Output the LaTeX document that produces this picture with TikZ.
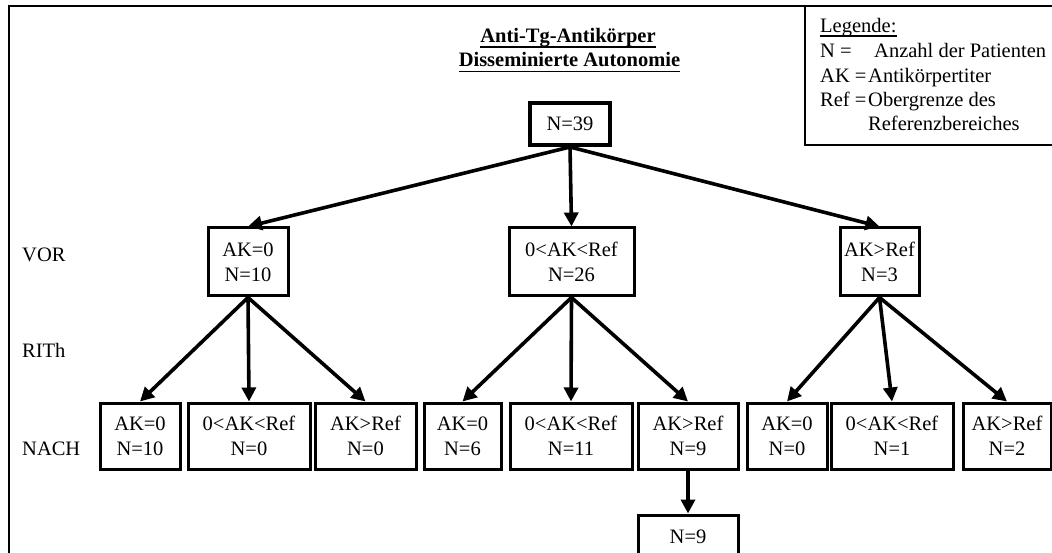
\documentclass[tikz,border=0pt]{standalone}
\usepackage{fontspec}
\setmainfont{Liberation Serif}
\usetikzlibrary{arrows.meta}
\begin{document}
\begin{tikzpicture}[x=1pt,y=-1pt,
  every node/.style={font=\fontsize{20.5}{25}\selectfont},
  box/.style={draw, line width=3pt, align=center, inner sep=0pt},
  lvbox/.style={box, minimum height=68pt},
  lowbox/.style={box, minimum height=66pt},
  conn/.style={line width=3.6pt, -{Triangle[length=14pt,width=14pt]}},
  txt/.style={anchor=base west, inner sep=0pt},
  ttl/.style={anchor=base, inner sep=0pt, font=\fontsize{20.5}{25}\selectfont\bfseries},
  uline/.style={line width=1.8pt},
]
\useasboundingbox (0,0) rectangle (1052,553);
\clip (0,0) rectangle (1052,553);

% frame and legend box
\draw[line width=2.8pt] (9,553) -- (9,6) -- (1052,6);
\draw[line width=1.8pt] (805,6) -- (805,145) -- (1052,145);

% legend
\node[txt] (lg) at (820,33) {Legende:};
\draw[line width=1.3pt] ([yshift=-3pt]lg.base west) -- ([yshift=-3pt]lg.base east);
\node[txt] (lgn) at (820,58) {N =};
\node[txt] (lgnt) at (874,58) {Anzahl der Patienten};
\node[txt] (lgak) at (820,83) {AK =};
\node[txt] (lgakt) at (868,83) {Antikörpertiter};
\node[txt] (lgref) at (820,107) {Ref =};
\node[txt] (lgreft) at (868,107) {Obergrenze des};
\node[txt] (lgreft2) at (868,131) {Referenzbereiches};

% title
\node[ttl] (t1) at (568,43) {Anti-Tg-Antikörper};
\node[ttl] (t2) at (569.5,67) {Disseminierte Autonomie};
\draw[uline] ([yshift=-4pt]t1.base west) -- ([yshift=-4pt]t1.base east);
\draw[uline] ([yshift=-4.5pt]t2.base west) -- ([yshift=-4.5pt]t2.base east);

% row labels
\node[txt] (vor) at (22,262) {VOR};
\node[txt] (rith) at (22,357) {RITh};
\node[txt] (nach) at (22,455) {NACH};

% top
\node[box, line width=4pt, minimum width=80pt, minimum height=42pt] (top) at (570,124) {N=39};

% level 2
\node[lvbox, minimum width=80pt] (a) at (248,262) {AK=0\\N=10};
\node[lvbox, minimum width=125pt] (b) at (571.5,262) {0<AK<Ref\\N=26};
\node[lvbox, minimum width=79pt] (c) at (879.5,262) {AK>Ref\\N=3};

% level 3
\node[lowbox, minimum width=80pt] (a1) at (140,436) {AK=0\\N=10};
\node[lowbox, minimum width=122pt] (a2) at (249,436) {0<AK<Ref\\N=0};
\node[lowbox, minimum width=101pt] (a3) at (365.5,436) {AK>Ref\\N=0};
\node[lowbox, minimum width=77pt] (b1) at (462.5,436) {AK=0\\N=6};
\node[lowbox, minimum width=122pt] (b2) at (571,436) {0<AK<Ref\\N=11};
\node[lowbox, minimum width=100pt] (b3) at (688,436) {AK>Ref\\N=9};
\node[lowbox, minimum width=80pt] (c1) at (787,436) {AK=0\\N=0};
\node[lowbox, minimum width=122pt] (c2) at (892,436) {0<AK<Ref\\N=1};
\node[lowbox, minimum width=88pt] (c3) at (1007,436) {AK>Ref\\N=2};

% level 4
\node[box, minimum width=100pt, minimum height=44pt] (d) at (688,537) {N=9};

% connectors
\draw[conn] (top.south) -- (a.north);
\draw[conn] (top.south) -- (b.north);
\draw[conn] (top.south) -- (c.north);
\draw[conn] (a.south) -- (a1.north);
\draw[conn] (a.south) -- (a2.north);
\draw[conn] (a.south) -- (a3.north);
\draw[conn] (b.south) -- (b1.north);
\draw[conn] (b.south) -- (b2.north);
\draw[conn] (b.south) -- (b3.north);
\draw[conn] (c.south) -- (c1.north);
\draw[conn] (c.south) -- (c2.north);
\draw[conn] (c.south) -- (c3.north);
\draw[conn] (b3.south) -- (d.north);
\end{tikzpicture}
\end{document}
